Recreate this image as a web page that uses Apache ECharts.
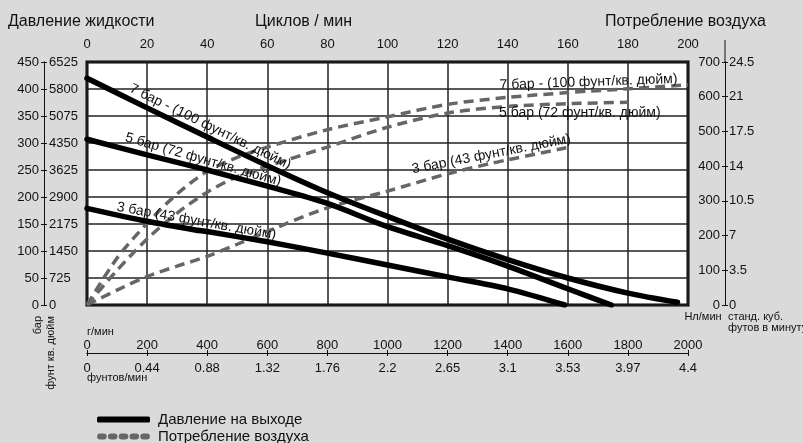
<!DOCTYPE html>
<html>
<head>
<meta charset="utf-8">
<script src="https://cdn.jsdelivr.net/npm/echarts@6/dist/echarts.min.js"></script>
<style>
html,body{margin:0;padding:0;background:#dadada;}
#c{width:803px;height:443px;}
</style>
</head>
<body>
<div id="c"></div>
<script>
// ---- data (x = flow, g/min) ----
const pressure7 = [[0,420],[200,365],[400,311],[600,258],[800,208],[1000,164],[1200,122],[1400,84],[1600,50],[1800,22],[1965,5]];
const pressure5 = [[0,307],[200,278],[380,253],[400,250],[600,220],[800,188],[1000,145],[1200,110],[1400,72],[1600,30],[1745,0]];
const pressure3 = [[0,179],[200,155],[360,139],[400,136],[600,117],[800,96],[1000,74],[1200,52],[1400,30],[1590,0]];
const air7 = [[0,0],[100,135],[200,235],[300,320],[400,385],[500,425],[600,455],[800,505],[1000,542],[1200,578],[1400,598],[1600,612],[1670,616],[1800,623],[2000,634]];
const air5 = [[0,0],[100,100],[200,190],[300,265],[400,325],[500,370],[600,400],[800,455],[1000,512],[1200,553],[1400,572],[1600,580],[1640,581],[1800,584]];
const air3 = [[0,0],[100,43],[200,82],[300,112],[400,140],[500,175],[600,212],[800,280],[1000,328],[1200,378],[1350,409],[1400,418],[1600,454]];

const cycleTicks = [0,20,40,60,80,100,120,140,160,180,200];
const barLabels = ['0','50','100','150','200','250','300','350','400','450'];
const psiLabels = ['0','725','1450','2175','2900','3625','4350','5075','5800','6525'];
const nlLabels = ['0','100','200','300','400','500','600','700'];
const cfmLabels = ['0','3.5','7','10.5','14','17.5','21','24.5'];
const gLabels = ['0','200','400','600','800','1000','1200','1400','1600','1800','2000'];
const lbLabels = ['0','0.44','0.88','1.32','1.76','2.2','2.65','3.1','3.53','3.97','4.4'];

const curveText7 = '7 бар - (100 фунт/кв. дюйм)';
const curveText5 = '5 бар (72 фунт/кв. дюйм)';
const curveText3 = '3 бар (43 фунт/кв. дюйм)';
const namePressure = 'Давление на выходе';
const nameAir = 'Потребление воздуха';

const FONT = 'Liberation Sans, Arial, sans-serif';
const chart = echarts.init(document.getElementById('c'), null, {renderer:'canvas'});

function mp(pt, text, rotate, pos, dist){
  return {
    symbol:'circle', symbolSize:0, silent:true, animation:false,
    label:{show:true, formatter:text, position:pos, distance:dist, rotate:rotate,
      color:'#111', fontSize:14, fontFamily:FONT},
    data:[{coord:pt}]
  };
}
const blackStyle = {color:'#000', width:5.5, cap:'round', join:'round'};
const dashStyle = {color:'#666', width:3.5, type:[10,6]};

// legend icon of five rounded dashes
let pillPath = 'path://';
for (let i = 0; i < 5; i++) {
  const x = i * 10.8;
  pillPath += 'M' + (x+3) + ' 0L' + (x+6.6) + ' 0A3 3 0 0 1 ' + (x+6.6) + ' 6L' + (x+3) + ' 6A3 3 0 0 1 ' + (x+3) + ' 0Z';
}

const tick = {color:'#111'};
const option = {
  backgroundColor:'#dadada',
  animation:false,
  textStyle:{fontFamily:FONT},
  title:[
    {text:'Давление жидкости', left:8, top:14, padding:0, textStyle:{fontSize:16, fontWeight:'normal', color:'#111', fontFamily:FONT}},
    {text:'Циклов / мин', left:255, top:14, padding:0, textStyle:{fontSize:16, fontWeight:'normal', color:'#111', fontFamily:FONT}},
    {text:'Потребление воздуха', left:605, top:14, padding:0, textStyle:{fontSize:16, fontWeight:'normal', color:'#111', fontFamily:FONT}}
  ],
  legend:{
    orient:'vertical', left:97, top:412, height:40, padding:0, itemWidth:53, itemHeight:6, itemGap:2,
    textStyle:{fontSize:15, color:'#111', fontFamily:FONT, padding:[0,0,0,3]},
    data:[
      {name:namePressure, icon:'roundRect', itemStyle:{color:'#000'}},
      {name:nameAir, icon:pillPath, itemStyle:{color:'#666'}}
    ]
  },
  grid:{left:87, right:115, top:62, bottom:138, show:true, backgroundColor:'#fff', borderColor:'#000', borderWidth:3},
  xAxis:[
    {type:'value', position:'bottom', offset:48, min:0, max:2000, interval:200,
      axisLine:{show:true, onZero:false, lineStyle:{color:'#111', width:1}},
      axisTick:{show:true, inside:true, length:3, lineStyle:tick},
      axisLabel:{inside:true, margin:1, fontSize:13, color:'#111', formatter:(v)=>gLabels[Math.round(v/200)]},
      splitLine:{show:true, lineStyle:{color:'#222', width:1.5}}},
    {type:'value', position:'bottom', offset:48, min:0, max:2000, interval:200,
      axisLine:{show:true, onZero:false, lineStyle:{color:'#111', width:1}},
      axisTick:{show:true, length:3, lineStyle:tick},
      axisLabel:{margin:9, fontSize:13, color:'#111', formatter:(v)=>lbLabels[Math.round(v/200)]},
      splitLine:{show:false}},
    {type:'value', position:'top', min:0, max:200, interval:20,
      axisLine:{show:false, onZero:false}, axisTick:{show:false},
      axisLabel:{margin:11, fontSize:13, color:'#111', formatter:(v)=>String(cycleTicks[Math.round(v/20)])},
      splitLine:{show:false}}
  ],
  yAxis:[
    {type:'value', position:'left', offset:43, min:0, max:450, interval:50,
      axisLine:{show:true, onZero:false, lineStyle:{color:'#111', width:1}},
      axisTick:{show:true, length:3, lineStyle:tick},
      axisLabel:{margin:5, fontSize:13, color:'#111', formatter:(v)=>barLabels[Math.round(v/50)]},
      splitLine:{show:true, lineStyle:{color:'#222', width:1.5}}},
    {type:'value', position:'left', offset:43, min:0, max:450, interval:50,
      axisLine:{show:true, onZero:false, lineStyle:{color:'#111', width:1}},
      axisTick:{show:true, inside:true, length:3, lineStyle:tick},
      axisLabel:{inside:true, margin:5, fontSize:13, color:'#111', formatter:(v)=>psiLabels[Math.round(v/50)]},
      splitLine:{show:false}},
    {type:'value', position:'right', offset:37, min:0, max:700, interval:100,
      axisLine:{show:true, onZero:false, lineStyle:{color:'#111', width:1}},
      axisTick:{show:true, inside:true, length:3, lineStyle:tick},
      axisLabel:{inside:true, margin:5, fontSize:13, color:'#111', formatter:(v)=>nlLabels[Math.round(v/100)]},
      splitLine:{show:false}},
    {type:'value', position:'right', offset:37, min:0, max:700, interval:100,
      axisLine:{show:true, onZero:false, lineStyle:{color:'#111', width:1}},
      axisTick:{show:true, length:3, lineStyle:tick},
      axisLabel:{margin:4, fontSize:13, color:'#111', formatter:(v)=>cfmLabels[Math.round(v/100)]},
      splitLine:{show:false}}
  ],
  graphic:[
    {type:'line', shape:{x1:725, y1:40, x2:725, y2:62}, style:{stroke:'#111', lineWidth:1}, silent:true},
    {type:'text', x:38, y:316, rotation:Math.PI/2, style:{text:'бар', align:'right', verticalAlign:'middle', font:'11px '+FONT, fill:'#111'}},
    {type:'text', x:51, y:316, rotation:Math.PI/2, style:{text:'фунт кв. дюйм', align:'right', verticalAlign:'middle', font:'11px '+FONT, fill:'#111'}},
    {type:'text', x:87, y:332, style:{text:'г/мин', align:'left', verticalAlign:'middle', font:'11px '+FONT, fill:'#111'}},
    {type:'text', x:87, y:378, style:{text:'фунтов/мин', align:'left', verticalAlign:'middle', font:'11px '+FONT, fill:'#111'}},
    {type:'text', x:703, y:317, style:{text:'Нл/мин', align:'center', verticalAlign:'middle', font:'11px '+FONT, fill:'#111'}},
    {type:'text', x:728, y:317, style:{text:'станд. куб.', align:'left', verticalAlign:'middle', font:'11px '+FONT, fill:'#111'}},
    {type:'text', x:728, y:328, style:{text:'футов в минуту', align:'left', verticalAlign:'middle', font:'11px '+FONT, fill:'#111'}}
  ],
  series:[
    {type:'line', name:nameAir, xAxisIndex:0, yAxisIndex:2, data:air7, symbol:'none', smooth:0.3, lineStyle:dashStyle, itemStyle:{color:'#666'}, z:3,
      markPoint:mp(air7[12], curveText7, 2, 'top', 2)},
    {type:'line', name:nameAir, xAxisIndex:0, yAxisIndex:2, data:air5, symbol:'none', smooth:0.3, lineStyle:dashStyle, itemStyle:{color:'#666'}, z:3,
      markPoint:mp(air5[12], curveText5, 0, 'bottom', 3)},
    {type:'line', name:nameAir, xAxisIndex:0, yAxisIndex:2, data:air3, symbol:'none', smooth:0.3, lineStyle:dashStyle, itemStyle:{color:'#666'}, z:3,
      markPoint:mp(air3[10], curveText3, 11, 'top', 2)},
    {type:'line', name:namePressure, xAxisIndex:0, yAxisIndex:0, data:pressure7, symbol:'none', smooth:0.3, lineStyle:blackStyle, itemStyle:{color:'#000'}, z:4,
      markPoint:mp(pressure7[2], curveText7, -26, 'top', 4)},
    {type:'line', name:namePressure, xAxisIndex:0, yAxisIndex:0, data:pressure5, symbol:'none', smooth:0.3, lineStyle:blackStyle, itemStyle:{color:'#000'}, z:4,
      markPoint:mp(pressure5[2], curveText5, -16, 'top', 2)},
    {type:'line', name:namePressure, xAxisIndex:0, yAxisIndex:0, data:pressure3, symbol:'none', smooth:0.3, lineStyle:blackStyle, itemStyle:{color:'#000'}, z:4,
      markPoint:mp(pressure3[2], curveText3, -10, 'top', 2)}
  ]
};
chart.setOption(option);
</script>
</body>
</html>
